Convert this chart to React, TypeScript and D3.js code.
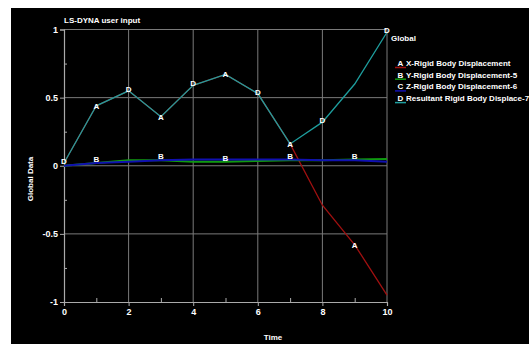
import React, { useEffect, useRef } from 'react';
import * as d3 from 'd3';

const times = [0, 1, 2, 3, 4, 5, 6, 7, 8, 9, 10];
const xRigid = [0.02, 0.44, 0.55, 0.36, 0.59, 0.67, 0.53, 0.16, -0.29, -0.58, -0.95];
const yRigid = [0, 0.02, 0.04, 0.04, 0.03, 0.03, 0.035, 0.04, 0.04, 0.045, 0.05];
const zRigid = [0, 0.02, 0.03, 0.04, 0.045, 0.045, 0.045, 0.045, 0.04, 0.04, 0.03];
const resultant = [0.02, 0.44, 0.55, 0.36, 0.59, 0.67, 0.53, 0.16, 0.32, 0.6, 0.98];

const xTicks = [0, 2, 4, 6, 8, 10];
const xMinor = [1, 3, 5, 7, 9];
const yTicks = [-1, -0.5, 0, 0.5, 1];
const yMinor = [-0.75, -0.25, 0.25, 0.75];

const seriesNames = [
  'X-Rigid Body Displacement',
  'Y-Rigid Body Displacement-5',
  'Z-Rigid Body Displacement-6',
  'Resultant Rigid Body Displace-7',
];
const seriesLetters = ['A', 'B', 'C', 'D'];
const seriesColors = ['#a01010', '#109a10', '#1010b0', '#1e9e9e'];

function App() {
  const svgRef = useRef<SVGSVGElement>(null);

  useEffect(() => {
    const svg = d3.select(svgRef.current);
    svg.selectAll('*').remove();
    const width = 529,
      height = 344;
    const font = 'Liberation Sans, Arial, sans-serif';

    svg.append('rect').attr('width', width).attr('height', height).attr('fill', '#fff');
    svg.append('rect').attr('x', 11).attr('y', 8).attr('width', width - 11).attr('height', height - 8).attr('fill', '#000');

    const x = d3.scaleLinear().domain([0, 10]).range([64, 387]);
    const y = d3.scaleLinear().domain([-1, 1]).range([302, 29.5]);

    // grid
    const grid = svg.append('g').attr('stroke', '#7a7a7a').attr('stroke-width', 1);
    xTicks.slice(1).forEach((t) => {
      grid.append('line').attr('x1', x(t)).attr('x2', x(t)).attr('y1', y(-1)).attr('y2', y(1));
    });
    yTicks.slice(1).forEach((t) => {
      grid.append('line').attr('x1', x(0)).attr('x2', x(10)).attr('y1', y(t)).attr('y2', y(t));
    });

    // axes
    const xAxis = svg
      .append('g')
      .attr('transform', `translate(0,${y(-1)})`)
      .call(d3.axisBottom(x).tickValues(xTicks).tickSize(4).tickPadding(3).tickFormat(d3.format('d')));
    svg
      .append('g')
      .attr('transform', `translate(0,${y(-1)})`)
      .call(d3.axisTop(x).tickValues(xMinor).tickSize(4).tickFormat(() => ''))
      .select('.domain')
      .remove();
    const yAxis = svg
      .append('g')
      .attr('transform', `translate(${x(0)},0)`)
      .call(d3.axisLeft(y).tickValues(yTicks).tickSize(4).tickPadding(2).tickFormat((d) => String(d)));
    svg
      .append('g')
      .attr('transform', `translate(${x(0)},0)`)
      .call(d3.axisRight(y).tickValues(yMinor).tickSize(3).tickFormat(() => ''))
      .select('.domain')
      .remove();
    svg.selectAll('.domain').attr('stroke', '#aaa').attr('stroke-width', 1.2);
    svg.selectAll('.tick line').attr('stroke', '#aaa');
    [xAxis, yAxis].forEach((ax) =>
      ax.selectAll('text').attr('fill', '#fff').attr('font-family', font).attr('font-weight', 'bold').attr('font-size', 9)
    );

    // lines
    const allSeries = [xRigid, yRigid, zRigid, resultant];
    const drawOrder = [0, 1, 2, 3];
    drawOrder.forEach((i) => {
      const line = d3
        .line<number>()
        .x((d, j) => x(times[j]))
        .y((d) => y(d));
      svg
        .append('path')
        .datum(allSeries[i])
        .attr('d', line)
        .attr('fill', 'none')
        .attr('stroke', seriesColors[i])
        .attr('stroke-width', i === 1 || i === 2 ? 2 : 1.3);
    });

    // point letters
    const labels = svg
      .append('g')
      .attr('fill', '#fff')
      .attr('font-family', font)
      .attr('font-weight', 'bold')
      .attr('font-size', 8)
      .attr('text-anchor', 'middle');
    times.forEach((t, j) => {
      if (j % 2 === 0) {
        labels.append('text').attr('x', x(t)).attr('y', y(resultant[j]) + 1).text('D');
      } else {
        labels.append('text').attr('x', x(t)).attr('y', y(xRigid[j]) + 3).text('A');
        labels.append('text').attr('x', x(t)).attr('y', y(yRigid[j]) - 1).text('B');
      }
    });

    // texts
    const txt = (tx: number, ty: number, s: string, size = 8) =>
      svg
        .append('text')
        .attr('x', tx)
        .attr('y', ty)
        .attr('fill', '#fff')
        .attr('font-family', font)
        .attr('font-weight', 'bold')
        .attr('font-size', size)
        .text(s);
    txt(64, 23, 'LS-DYNA user input');
    txt(391, 41, 'Global');
    txt(273, 340, 'Time').attr('text-anchor', 'middle');
    txt(0, 0, 'Global Data')
      .attr('text-anchor', 'middle')
      .attr('transform', 'translate(33,179) rotate(-90)');

    // legend
    seriesNames.forEach((name, i) => {
      const ly = 66 + i * 11.7;
      svg
        .append('line')
        .attr('x1', 395)
        .attr('x2', 406)
        .attr('y1', ly + 1.5)
        .attr('y2', ly + 1.5)
        .attr('stroke', seriesColors[i])
        .attr('stroke-width', 1.5);
      txt(397.5, ly, seriesLetters[i]);
      txt(406, ly, name);
    });
  }, []);

  return <svg ref={svgRef} width={529} height={344} style={{ position: 'absolute', left: 0, top: 0 }} />;
}

export default App;
